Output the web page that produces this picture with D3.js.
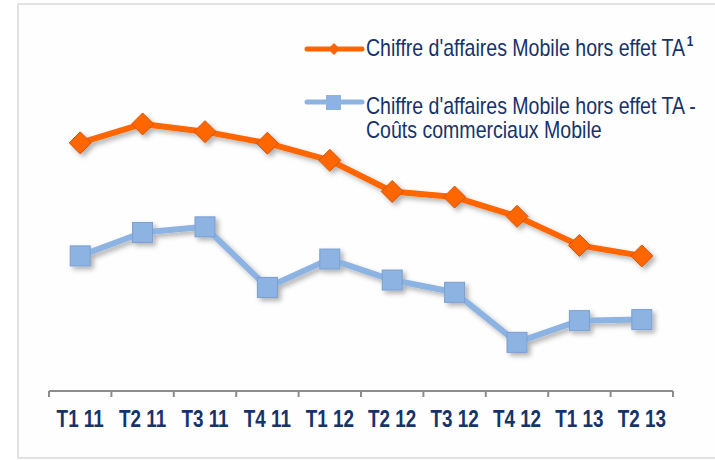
<html>
  <head>
    <meta charset="utf-8">
    <script src="https://d3js.org/d3.v7.min.js"></script>
    <style>
      body { margin: 0; background: #fff; }
      svg text { font-family: "Liberation Sans", Arial, sans-serif; fill: #17336b; }
    </style>
  </head>
  <body>
    <svg width="715" height="460"></svg>
    <script>
      // data (arbitrary units, no y axis shown)
      var quarters = ["T1 11", "T2 11", "T3 11", "T4 11", "T1 12", "T2 12", "T3 12", "T4 12", "T1 13", "T2 13"];
      var caMobile = [70.9, 76.3, 74.1, 70.8, 65.9, 57.0, 55.4, 49.9, 41.6, 38.6];
      var caMoinsCouts = [38.6, 45.3, 46.9, 29.6, 37.7, 31.7, 28.2, 13.9, 20.1, 20.4];
      var seriesNames = ["Chiffre d'affaires Mobile hors effet TA", "Chiffre d'affaires Mobile hors effet TA -", "Coûts commerciaux Mobile"];

      var svg = d3.select("svg");
      var narrow = 0.82; // fake Arial Narrow by squeezing Liberation Sans
      var narrowLeg = 0.85;

      var defs = svg.append("defs");
      var f = defs.append("filter").attr("id", "shadow")
        .attr("x", "-50%").attr("y", "-50%").attr("width", "200%").attr("height", "200%");
      f.append("feDropShadow").attr("dx", 3).attr("dy", 3).attr("stdDeviation", 2.5)
        .attr("flood-color", "#000").attr("flood-opacity", 0.3);

      // frame
      svg.append("rect").attr("x", 18).attr("y", 4).attr("width", 705).attr("height", 454)
        .attr("fill", "#fefefe").attr("stroke", "#e2e2e2").attr("stroke-width", 2);

      var x = d3.scaleBand().domain(quarters).range([49, 673]);
      var y = d3.scaleLinear().domain([0, 100]).range([391, 41]);

      // axis line with ticks at band edges
      svg.append("line").attr("x1", 49).attr("x2", 673).attr("y1", 391).attr("y2", 391)
        .attr("stroke", "#8c8c8c").attr("stroke-width", 2);
      var edges = quarters.map(function(q) { return x(q); }).concat([673]);
      svg.selectAll(".tk").data(edges).enter().append("line")
        .attr("x1", function(d) { return d; }).attr("x2", function(d) { return d; })
        .attr("y1", 391).attr("y2", 397).attr("stroke", "#8c8c8c").attr("stroke-width", 2);

      svg.selectAll(".lbl").data(quarters).enter().append("text")
        .attr("transform", function(d) { return "translate(" + (x(d) + x.bandwidth() / 2) + ",427) scale(" + narrow + ",1)"; })
        .attr("text-anchor", "middle").attr("font-size", 23).attr("font-weight", "bold")
        .text(function(d) { return d; });

      var cx = function(d, i) { return x(quarters[i]) + x.bandwidth() / 2; };
      var line = d3.line().x(cx).y(function(d) { return y(d); });

      // blue series
      var gb = svg.append("g").attr("filter", "url(#shadow)");
      gb.append("path").datum(caMoinsCouts).attr("d", line)
        .attr("fill", "none").attr("stroke", "#8db3e2").attr("stroke-width", 6).attr("stroke-linejoin", "round");
      gb.selectAll("rect").data(caMoinsCouts).enter().append("rect")
        .attr("x", function(d, i) { return cx(d, i) - 10; })
        .attr("y", function(d) { return y(d) - 10; })
        .attr("width", 20).attr("height", 20)
        .attr("fill", "#8db3e2").attr("stroke", "#7a9ed0").attr("stroke-width", 1);

      // orange series
      var go = svg.append("g").attr("filter", "url(#shadow)");
      go.append("path").datum(caMobile).attr("d", line)
        .attr("fill", "none").attr("stroke", "#ff6600").attr("stroke-width", 6).attr("stroke-linejoin", "round");
      go.selectAll(".dia").data(caMobile).enter().append("path")
        .attr("d", "M0,-11L11,0L0,11L-11,0Z")
        .attr("transform", function(d, i) { return "translate(" + cx(d, i) + "," + y(d) + ")"; })
        .attr("fill", "#ff6600").attr("stroke", "#d25405").attr("stroke-width", 1);

      // legend
      var lg = svg.append("g");
      lg.append("line").attr("x1", 307).attr("x2", 362).attr("y1", 49).attr("y2", 49)
        .attr("stroke", "#ff6600").attr("stroke-width", 5).attr("stroke-linecap", "round");
      lg.append("path").attr("d", "M0,-6L6,0L0,6L-6,0Z").attr("transform", "translate(334,49)").attr("fill", "#ff6600");
      var t1 = lg.append("text").attr("transform", "translate(366,56) scale(" + narrowLeg + ",1)")
        .attr("font-size", 23).text(seriesNames[0]);
      t1.append("tspan").attr("dy", -10).attr("dx", 2).attr("font-size", 14).attr("font-weight", "bold").text("1");

      lg.append("line").attr("x1", 307).attr("x2", 362).attr("y1", 102).attr("y2", 102)
        .attr("stroke", "#8db3e2").attr("stroke-width", 5).attr("stroke-linecap", "round");
      lg.append("rect").attr("x", 326).attr("y", 95).attr("width", 15).attr("height", 15).attr("fill", "#8db3e2");
      lg.append("text").attr("transform", "translate(366,114) scale(" + narrowLeg + ",1)")
        .attr("font-size", 23).text(seriesNames[1]);
      lg.append("text").attr("transform", "translate(366,138) scale(" + narrowLeg + ",1)")
        .attr("font-size", 23).text(seriesNames[2]);
    </script>
  </body>
</html>
